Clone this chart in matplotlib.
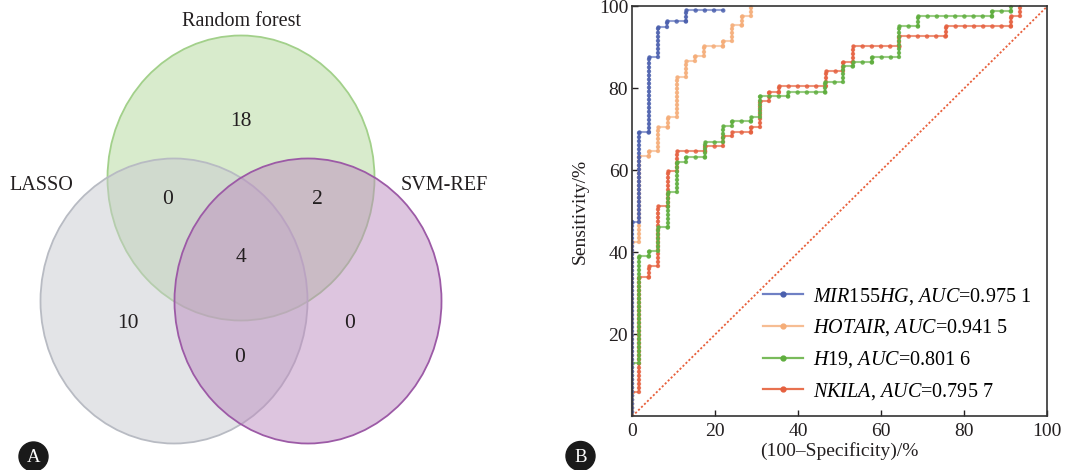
import matplotlib
matplotlib.use("Agg")
from matplotlib import pyplot as plt
from matplotlib.patches import Ellipse, Circle
from matplotlib.collections import LineCollection
from matplotlib.lines import Line2D
from matplotlib.colors import to_rgba

plt.rcParams['font.family'] = ['Liberation Serif', 'DejaVu Serif']
plt.rcParams['mathtext.fontset'] = 'custom'
plt.rcParams['mathtext.rm'] = 'Liberation Serif'
plt.rcParams['mathtext.it'] = 'Liberation Serif:italic'
plt.rcParams['lines.scale_dashes'] = False

# ---- Venn data (panel A)
set_names = ["Random forest", "LASSO", "SVM-REF"]
region_names = ["RF only", "RF & LASSO", "RF & SVM-REF", "all three",
                "LASSO only", "SVM-REF only", "LASSO & SVM-REF"]
region_counts = [18, 0, 2, 4, 10, 0, 0]

# ---- ROC data (panel B), step corners (steps-post), in %
mir_fpr = [0, 0, 1.7, 4.0, 6.1, 8.4, 12.9, 21.9]
mir_tpr = [0, 47.5, 69.4, 87.7, 95.0, 96.4, 99.2, 99.2]

hot_fpr = [0, 0, 1.7, 4.1, 6.3, 8.5, 10.8, 12.9, 15.1, 17.3, 21.8, 24.1, 26.4, 28.6]
hot_tpr = [0, 42.6, 63.6, 64.6, 70.6, 73.1, 82.8, 86.7, 87.9, 90.4, 91.5, 95.4, 97.7, 100]

h19_fpr = [0, 0, 1.7, 4.1, 6.3, 8.5, 10.8, 12.9, 17.4, 21.9, 24.1, 28.6, 30.8,
           37.6, 46.4, 50.8, 53.1, 57.7, 64.3, 68.8, 86.6, 91.3]
h19_tpr = [0, 13.1, 39.1, 40.3, 46.2, 54.8, 62.1, 63.3, 67.0, 70.8, 72.1, 73.1, 78.1,
           79.2, 81.6, 85.4, 86.5, 87.7, 95.2, 97.6, 98.8, 100]

nk_fpr = [0, 0, 1.7, 4.1, 6.3, 8.5, 10.8, 17.4, 21.9, 24.1, 28.6, 30.8, 33.0,
          35.3, 46.6, 50.8, 53.1, 64.3, 75.5, 91.3, 93.4]
nk_tpr = [0, 6.0, 34.0, 36.7, 51.3, 59.8, 64.7, 66.0, 68.4, 69.4, 70.6, 76.8, 79.2,
          80.6, 84.2, 86.5, 90.3, 92.8, 95.2, 97.6, 100]

gene_labels = [r"$\mathit{MIR}$155$\mathit{HG}$", r"$\mathit{HOTAIR}$",
               r"$\mathit{H}$19", r"$\mathit{NKILA}$"]
auc_values = [0.9751, 0.9415, 0.8016, 0.7957]
x_ticks = [0, 20, 40, 60, 80, 100]
y_ticks = [20, 40, 60, 80, 100]

fig = plt.figure(figsize=(10.66, 4.70), dpi=100)

# overlay in pixel coordinates for the Venn diagram and the panel badges
axv = fig.add_axes([0, 0, 1, 1])
axv.set_xlim(0, 1066)
axv.set_ylim(470, 0)
axv.axis('off')

circle_xy = [(241, 178), (174, 301), (308, 301)]
circle_fill = ['#b3d89b', '#c9cbd0', '#bd8dc0']
circle_edge = ['#a2d08a', '#b8bbc3', '#9c5aa6']
for (cx, cy), fc, ec in zip(circle_xy, circle_fill, circle_edge):
    axv.add_patch(Ellipse((cx, cy), 267, 285, facecolor=to_rgba(fc, 0.5),
                          edgecolor=ec, lw=1.3))

name_xy = [(241, 22), (41, 185), (444, 185)]
for name, (tx, ty) in zip(set_names, name_xy):
    axv.text(tx, ty, name, ha='center', va='center', fontsize=14.5, color='#231f20')

count_xy = [(241, 121), (168, 200), (317, 200), (241, 258), (128, 323), (350, 323), (240, 358)]
for n, (tx, ty) in zip(region_counts, count_xy):
    axv.text(tx, ty, str(n), ha='center', va='center', fontsize=15.5, color='#231f20')

for letter, (bx, by) in zip(["A", "B"], [(33.5, 456.5), (580.5, 456)]):
    axv.add_patch(Circle((bx, by), 14.5, color='#1a1a1a'))
    axv.text(bx, by + 1, letter, ha='center', va='center', fontsize=13.5, color='white')

# ---- ROC panel
ax = fig.add_axes([632.3 / 1066, (470 - 416.3) / 470, 415 / 1066, 410 / 470])
ax.set_xlim(0, 100)
ax.set_ylim(0, 100)


def step_segments(x, y):
    horiz, vert = [], []
    for i in range(len(x) - 1):
        if x[i + 1] != x[i]:
            horiz.append([(x[i], y[i]), (x[i + 1], y[i])])
        if y[i + 1] != y[i]:
            vert.append([(x[i + 1], y[i]), (x[i + 1], y[i + 1])])
    return horiz, vert


curves = [(nk_fpr, nk_tpr, '#e8714f', '#e5603f'),
          (h19_fpr, h19_tpr, '#79bb5b', '#5fae3e'),
          (hot_fpr, hot_tpr, '#f6bd93', '#f5ad78'),
          (mir_fpr, mir_tpr, '#6f80c4', '#4a5fad')]
for fpr, tpr, lc, dc in curves:
    ax.plot(fpr, tpr, drawstyle='steps-post', color=lc, lw=1.5, alpha=0.75, clip_on=False)
    horiz, vert = step_segments(fpr, tpr)
    ax.add_collection(LineCollection(horiz, colors=dc, linewidths=3.3, alpha=0.85,
                                     linestyles=[(0, (0.01, 6.6))], capstyle='round'))
    ax.add_collection(LineCollection(vert, colors=dc, linewidths=3.2, alpha=0.85,
                                     linestyles=[(0, (0.01, 2.9))], capstyle='round'))

ax.plot([0, 100], [0, 100], color='#e8603c', lw=1.3, linestyle=(0, (1.5, 1.5)))

handles = []
for lc, dc in [('#6f80c4', '#4a5fad'), ('#f6bd93', '#f5ad78'),
               ('#79bb5b', '#5fae3e'), ('#e8714f', '#e5603f')]:
    handles.append(Line2D([0], [0], color=lc, lw=1.6, marker='o', ms=3.5,
                          mfc=dc, mec=dc))
labels = []
for g, v in zip(gene_labels, auc_values):
    s = f"{v:.4f}"
    labels.append(g + r", $\mathit{AUC}$=" + s[:-1] + " " + s[-1])
ax.legend(handles, labels, loc='upper left', bbox_to_anchor=(763 / 1066, 1 - 286 / 470),
          bbox_transform=fig.transFigure, frameon=False, fontsize=14.5,
          handlelength=2.0, handletextpad=0.5, labelspacing=0.53,
          borderpad=0, borderaxespad=0)

ax.set_xticks(x_ticks)
ax.set_yticks(y_ticks)
ax.tick_params(direction='in', length=4, width=1, labelsize=14, colors='#231f20')
ax.tick_params(axis='x', pad=5)
ax.tick_params(axis='y', pad=3)
for sp in ax.spines.values():
    sp.set_color('#333333')
    sp.set_linewidth(1.2)
ax.set_xlabel("(100\u2013Specificity)/%", fontsize=14, labelpad=1, color='#231f20')
ax.set_ylabel("Sensitivity/%", fontsize=14, labelpad=7, color='#231f20')

fig.savefig("out.png", dpi=100)
